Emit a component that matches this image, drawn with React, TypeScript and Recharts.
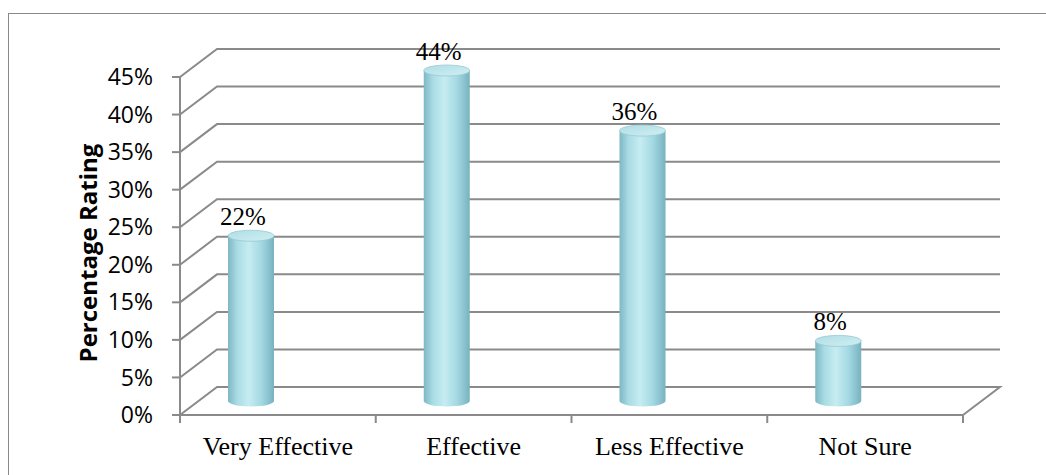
import { BarChart, Bar, XAxis, YAxis, CartesianGrid, LabelList } from "recharts";

const categories = ["Very Effective", "Effective", "Less Effective", "Not Sure"];
const ratings = [22, 44, 36, 8];
const yTicks = [0, 5, 10, 15, 20, 25, 30, 35, 40, 45];

const data = categories.map((name, i) => ({ name, rating: ratings[i] }));

// chart geometry (page pixels)
const W = 1046;
const H = 475;
const MARGIN = { top: 77, right: 83, bottom: 0, left: 0 };
const Y_AXIS_W = 180;
const X_AXIS_H = 60;
const PLOT_LEFT = MARGIN.left + Y_AXIS_W;
const PLOT_RIGHT = W - MARGIN.right;
const PLOT_BOTTOM = H - MARGIN.bottom - X_AXIS_H;
const DEPTH_X = 37;
const DEPTH_Y = 28;
const BAR_SHIFT_X = -27;
const BAR_SHIFT_Y = -14;
const GRID = "#8a8a8a";
const SERIF = "'Liberation Serif', 'Times New Roman', serif";
const SANS = "'Open Sans', 'Noto Sans', sans-serif";

// 3d wall lines: front edge -> back wall
const gridLine = (p: any) => {
  const { x1, x2, y1 } = p;
  let d = `M${x1},${y1}L${x1 + DEPTH_X},${y1 - DEPTH_Y}L${x2 + DEPTH_X},${y1 - DEPTH_Y}`;
  if (Math.abs(y1 - PLOT_BOTTOM) < 1) d += `L${x2},${y1}`;
  return <path key={p.key} d={d} fill="none" stroke={GRID} strokeWidth={2} />;
};

const Cylinder = (p: any) => {
  const { x, y, width, height, index } = p;
  const rx = width / 2;
  const ry = 5.5;
  const cx = x + rx + BAR_SHIFT_X;
  const left = cx - rx;
  const top = y + BAR_SHIFT_Y;
  const bottom = y + height + BAR_SHIFT_Y;
  const body = `cylBody${index}`;
  const cap = `cylCap${index}`;
  return (
    <g>
      <defs>
        <linearGradient id={body} x1="0" y1="0" x2="1" y2="0">
          <stop offset="0%" stopColor="#7fb7c4" />
          <stop offset="20%" stopColor="#a9dce5" />
          <stop offset="45%" stopColor="#c6ecf1" />
          <stop offset="72%" stopColor="#a4d9e3" />
          <stop offset="100%" stopColor="#78b2bf" />
        </linearGradient>
        <linearGradient id={cap} x1="0" y1="0" x2="1" y2="1">
          <stop offset="0%" stopColor="#afdde5" />
          <stop offset="100%" stopColor="#d0eff3" />
        </linearGradient>
      </defs>
      <path
        d={`M${left},${top}L${left},${bottom}A${rx},${ry} 0 0 0 ${left + width},${bottom}L${left + width},${top}Z`}
        fill={`url(#${body})`}
      />
      <ellipse cx={cx} cy={top} rx={rx} ry={ry} fill={`url(#${cap})`} stroke="#98c9d2" strokeWidth={0.8} />
    </g>
  );
};

const valueLabel = (p: any) => {
  const { x, y, width, value } = p;
  return (
    <text
      x={x + width / 2 + BAR_SHIFT_X - 8}
      y={y + BAR_SHIFT_Y - 11}
      textAnchor="middle"
      fontFamily={SERIF}
      fontSize={25}
      fill="#000"
    >
      {value}%
    </text>
  );
};

const CategoryTick = (p: any) => {
  const { x, payload, index } = p;
  const band = (PLOT_RIGHT - PLOT_LEFT) / categories.length;
  const l = x - band / 2;
  const r = x + band / 2;
  return (
    <g>
      <line x1={l} y1={PLOT_BOTTOM} x2={l} y2={PLOT_BOTTOM + 8} stroke={GRID} strokeWidth={2} />
      {index === categories.length - 1 && (
        <line x1={r} y1={PLOT_BOTTOM} x2={r} y2={PLOT_BOTTOM + 8} stroke={GRID} strokeWidth={2} />
      )}
      <text x={x} y={PLOT_BOTTOM + 40} textAnchor="middle" fontFamily={SERIF} fontSize={26} fill="#000">
        {payload.value}
      </text>
    </g>
  );
};

const axisTitle = (p: any) => {
  const { viewBox } = p;
  const cx = viewBox.x + 87;
  const cy = viewBox.y + viewBox.height / 2 + 7;
  return (
    <text
      x={cx}
      y={cy}
      transform={`rotate(-90 ${cx} ${cy})`}
      textAnchor="middle"
      dominantBaseline="central"
      fontFamily={SANS}
      fontWeight="bold"
      fontSize={24}
      fill="#000"
    >
      Percentage Rating
    </text>
  );
};

export default function App() {
  return (
    <div style={{ position: "absolute", left: 0, top: 0, width: W, height: H, background: "#fff", overflow: "hidden" }}>
      <div
        style={{
          position: "absolute",
          left: 8,
          top: 13,
          width: W,
          height: H,
          borderTop: `1.5px solid ${GRID}`,
          borderLeft: `1.5px solid ${GRID}`,
        }}
      />
      <div style={{ position: "absolute", left: 0, top: 0 }}>
        <BarChart width={W} height={H} data={data} margin={MARGIN} barSize={46}>
          <CartesianGrid horizontal={gridLine} vertical={false} />
          <XAxis
            dataKey="name"
            axisLine={{ stroke: GRID, strokeWidth: 2 }}
            tickLine={false}
            tick={<CategoryTick />}
            interval={0}
            height={X_AXIS_H}
          />
          <YAxis
            width={Y_AXIS_W}
            domain={[0, 45]}
            ticks={yTicks}
            interval={0}
            tickFormatter={(v: number) => `${v}%`}
            axisLine={{ stroke: GRID, strokeWidth: 2 }}
            tickLine={{ stroke: GRID, strokeWidth: 2 }}
            tickSize={8}
            tickMargin={19}
            tick={{ fill: "#000", fontFamily: SANS, fontSize: 23 }}
            label={{ content: axisTitle }}
          />
          <Bar dataKey="rating" shape={<Cylinder />} isAnimationActive={false}>
            <LabelList dataKey="rating" content={valueLabel} />
          </Bar>
        </BarChart>
      </div>
    </div>
  );
}
